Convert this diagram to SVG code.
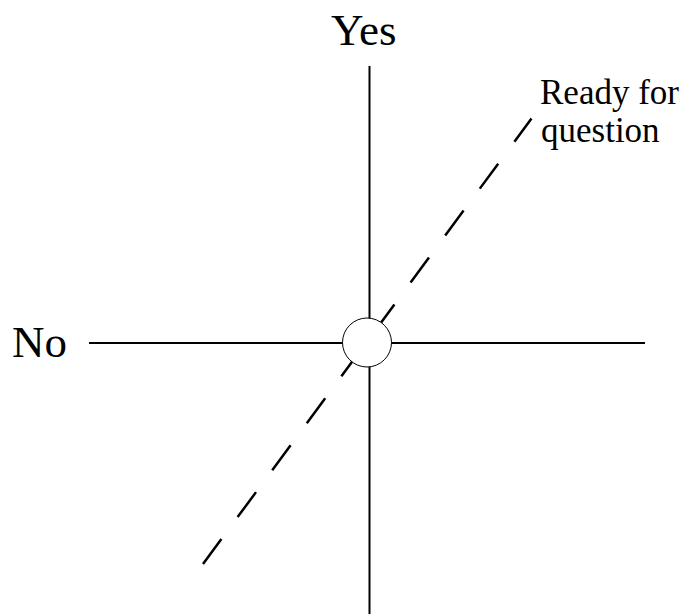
<svg xmlns="http://www.w3.org/2000/svg" width="688" height="614" viewBox="0 0 688 614">
<style>
.axis{stroke:#000;stroke-width:2;fill:none}
.dash{stroke:#000;stroke-width:2.5;fill:none;stroke-dasharray:31 27.3}
.big{font-family:"Liberation Serif","Times New Roman",serif;font-size:45px;fill:#000}
.small{font-family:"Liberation Serif","Times New Roman",serif;font-size:35px;fill:#000}
</style>
<rect width="688" height="614" fill="#fff"/>
<g id="connectors">
<line class="axis" x1="369.5" y1="66" x2="369.5" y2="614"/>
<line class="axis" x1="89" y1="343" x2="645" y2="343"/>
<line class="dash" x1="203" y1="564" x2="531.5" y2="118.5"/>
</g>
<g id="center">
<circle cx="367" cy="342.5" r="24.5" fill="#fff" stroke="#000" stroke-width="1"/>
</g>
<g id="yes"><text class="big" x="331" y="45">Yes</text></g>
<g id="no"><text class="big" x="12" y="357">No</text></g>
<g id="ready"><text class="small" x="540" y="104">Ready for</text><text class="small" x="541" y="142">question</text></g>
</svg>
